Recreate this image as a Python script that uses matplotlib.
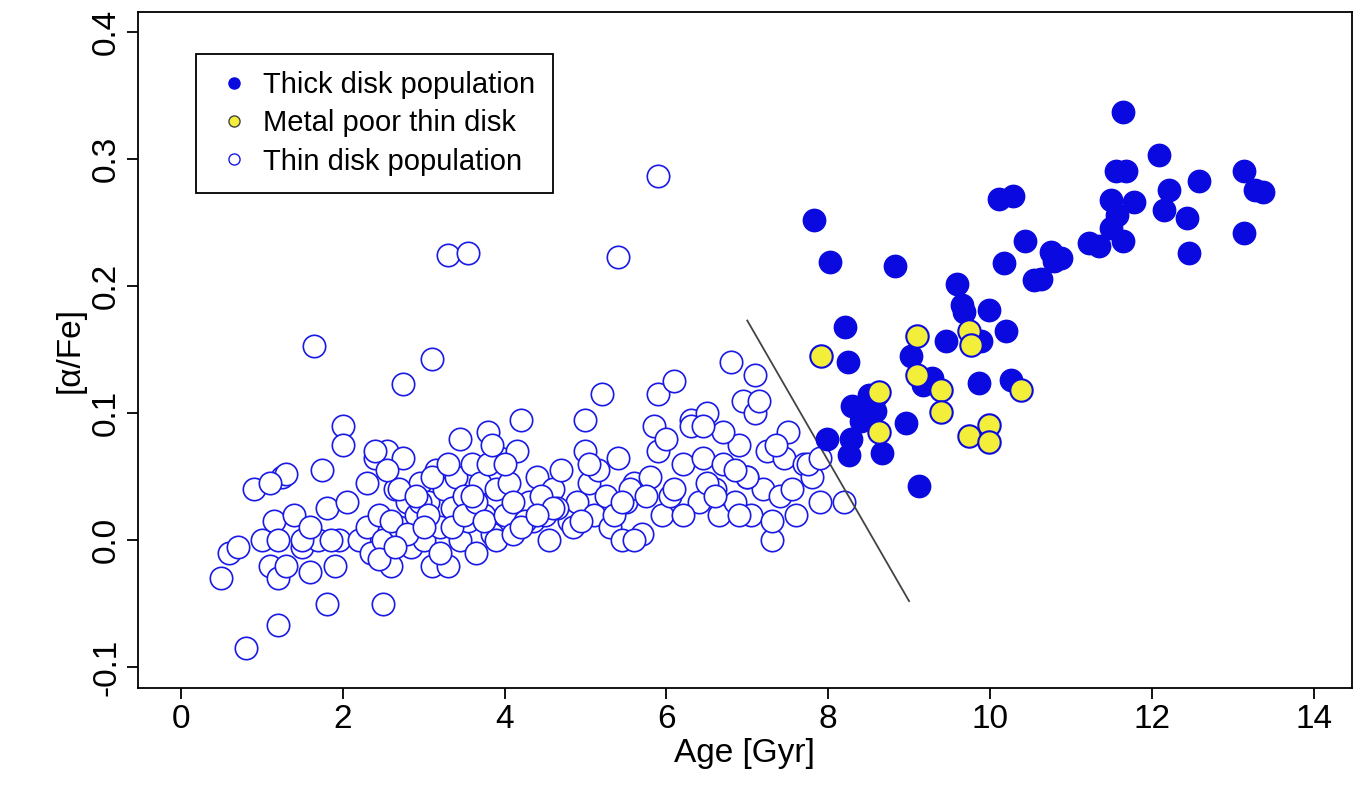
import matplotlib
matplotlib.use("Agg")
import matplotlib.pyplot as plt
from matplotlib.lines import Line2D

thick_px = [(815,220),(831,262),(828,438),(846,327),(849,362),(853,405),(852,438),(850,455),(862,420),(866,408),
 (870,395),(870,410),(876,410),(878,395),(883,452),(896,266),(907,423),(912,356),(920,485),(924,385),(933,378),
 (947,340),(958,283),(963,305),(965,312),(974,340),(980,382),(982,340),(990,310),(1000,198),(1005,263),(1007,330),
 (1014,196),(1012,380),(1035,280),(1042,278),(1026,240),(1052,252),(1055,260),(1062,258),(1090,243),(1100,245),
 (1112,228),(1112,200),(1117,170),(1118,215),(1124,240),(1125,112),(1127,170),(1135,202),(1160,155),(1165,210),
 (1170,190),(1190,253),(1188,218),(1200,180),(1245,170),(1245,233),(1256,190),(1265,192)]
thick_age = [round((p[0]-181)/81, 2) for p in thick_px]
thick_afe = [round((540-p[1])/1270, 3) for p in thick_px]

mp_px = [(822,356),(880,392),(880,432),(918,335),(918,375),(942,390),(942,412),(970,330),(972,345),(970,436),
 (990,424),(990,442),(1022,390)]
mp_age = [round((p[0]-181)/81, 2) for p in mp_px]
mp_afe = [round((540-p[1])/1270, 3) for p in mp_px]

thin_age = [1.65,2.75,3.1,3.3,3.55,5.4,5.9,0.8,1.2,1.8,2.5,
 0.5,0.6,0.7,0.9,1.0,1.1,1.15,1.2,1.25,1.3,1.2,1.4,1.5,1.6,1.7,1.75,1.8,1.9,1.95,2.0,2.0,2.05,1.85,1.1,1.3,1.5,1.6,
 2.2,2.3,2.35,2.4,2.45,2.5,2.55,2.6,2.65,2.7,2.75,2.8,2.85,2.9,2.95,3.0,3.05,3.1,3.15,3.2,3.25,3.3,3.35,3.4,3.45,3.5,
 3.55,3.6,3.65,3.7,3.75,3.8,3.85,3.9,3.95,2.3,2.45,2.6,2.7,2.8,2.95,3.05,3.2,3.35,3.5,3.65,3.8,3.9,2.55,2.9,3.1,3.45,3.75,
 2.4,2.65,3.0,3.3,3.6,3.85,
 4.0,4.05,4.1,4.15,4.2,4.3,4.35,4.4,4.5,4.55,4.6,4.7,4.8,4.9,5.0,5.05,5.1,5.2,5.25,5.3,5.4,5.45,5.5,5.6,5.7,5.8,5.9,5.95,
 4.0,4.1,4.25,4.45,4.65,4.85,5.0,5.15,5.35,5.55,5.75,5.9,4.2,4.6,5.05,5.45,5.85,4.4,4.95,5.6,
 6.0,6.05,6.1,6.2,6.3,6.4,6.45,6.5,6.6,6.65,6.7,6.8,6.85,6.9,6.95,7.0,7.05,7.1,7.2,7.25,7.3,7.4,7.45,7.5,7.6,7.7,7.8,7.9,8.2,
 6.1,6.3,6.5,6.7,6.9,7.1,7.3,7.55,7.75,6.2,6.6,7.0,7.35,6.45,6.85,7.15,7.9]
thin_afe = [0.153,0.123,0.143,0.225,0.226,0.223,0.287,-0.085,-0.067,-0.05,-0.05,
 -0.03,-0.01,-0.005,0.04,0.0,-0.02,0.015,-0.03,0.05,0.052,0.0,0.02,-0.005,-0.025,0.0,0.055,0.025,-0.02,0.0,0.09,0.075,0.03,0.0,0.045,-0.02,0.0,0.01,
 0.0,0.01,-0.01,0.065,0.02,0.0,0.07,-0.02,0.04,0.01,0.065,0.03,-0.005,0.02,0.045,0.0,0.03,-0.02,0.055,0.01,0.04,-0.02,0.025,0.05,0.0,0.035,
 0.015,0.06,-0.01,0.045,0.02,0.085,0.005,0.04,0.065,0.045,-0.015,0.015,0.04,0.005,0.03,0.02,-0.01,0.01,0.02,0.03,0.06,0.0,0.055,0.035,0.05,0.08,0.015,
 0.07,-0.005,0.01,0.06,0.035,0.075,
 0.02,0.045,0.005,0.07,0.095,0.03,0.015,0.05,0.02,0.0,0.04,0.055,0.015,0.03,0.07,0.045,0.02,0.115,0.035,0.01,0.065,0.0,0.03,0.045,0.005,0.05,0.115,0.02,
 0.06,0.03,0.015,0.035,0.025,0.01,0.095,0.055,0.02,0.04,0.035,0.07,0.01,0.025,0.06,0.03,0.09,0.02,0.015,0.0,
 0.08,0.035,0.125,0.06,0.095,0.03,0.065,0.1,0.04,0.02,0.06,0.14,0.03,0.075,0.11,0.05,0.02,0.13,0.04,0.07,0.0,0.035,0.065,0.085,0.02,0.06,0.05,0.03,0.03,
 0.04,0.09,0.045,0.085,0.02,0.1,0.015,0.04,0.06,0.02,0.035,0.05,0.075,0.09,0.055,0.11,0.065]

line_age = [7.0, 9.0]
line_afe = [0.173, -0.048]

fig = plt.figure(figsize=(13.53, 8.01), dpi=100)
ax = fig.add_axes([0.102, 0.141, 0.897, 0.844])
ax.scatter(thin_age, thin_afe, s=260, facecolors='white', edgecolors='#1a1ae6', linewidths=1.2, zorder=2)
ax.plot(line_age, line_afe, color='#444444', lw=1.3, zorder=3)
ax.scatter(thick_age, thick_afe, s=260, facecolors='#0a0ae0', edgecolors='#0a0ae0', zorder=4)
ax.scatter(mp_age, mp_afe, s=260, facecolors='#f2ee3a', edgecolors='#0a0ae0', linewidths=1.5, zorder=5)
ax.set_xlim(-0.53, 14.47)
ax.set_ylim(-0.1165, 0.416)
ax.set_xticks([0,2,4,6,8,10,12,14])
ax.set_yticks([-0.1,0.0,0.1,0.2,0.3,0.4])
ax.set_yticklabels(['-0.1','0.0','0.1','0.2','0.3','0.4'], rotation=90, va='center')
ax.tick_params(labelsize=24, length=8, width=1.3)
for s in ax.spines.values():
    s.set_linewidth(1.3)
ax.set_xlabel('Age [Gyr]', fontsize=24, family='Liberation Sans', labelpad=2)
ax.set_ylabel('[α/Fe]', fontsize=24, family='Liberation Sans')
for t in ax.get_xticklabels() + ax.get_yticklabels():
    t.set_family('Liberation Sans')
handles = [Line2D([], [], marker='o', ls='', ms=8, mfc='#0a0ae0', mec='#0a0ae0'),
           Line2D([], [], marker='o', ls='', ms=8, mfc='#f2ee3a', mec='#444444'),
           Line2D([], [], marker='o', ls='', ms=8, mfc='white', mec='#1a1ae6')]
leg = ax.legend(handles, ['Thick disk population', 'Metal poor thin disk', 'Thin disk population'],
                loc='upper left', bbox_to_anchor=(0.036, 0.96), fancybox=False, framealpha=1,
                edgecolor='black', prop={'family': 'Liberation Sans', 'size': 21}, handletextpad=0.3,
                handlelength=1.4, borderpad=0.6, labelspacing=0.35)
leg.get_frame().set_linewidth(1.3)
fig.savefig('out.png', dpi=100)
